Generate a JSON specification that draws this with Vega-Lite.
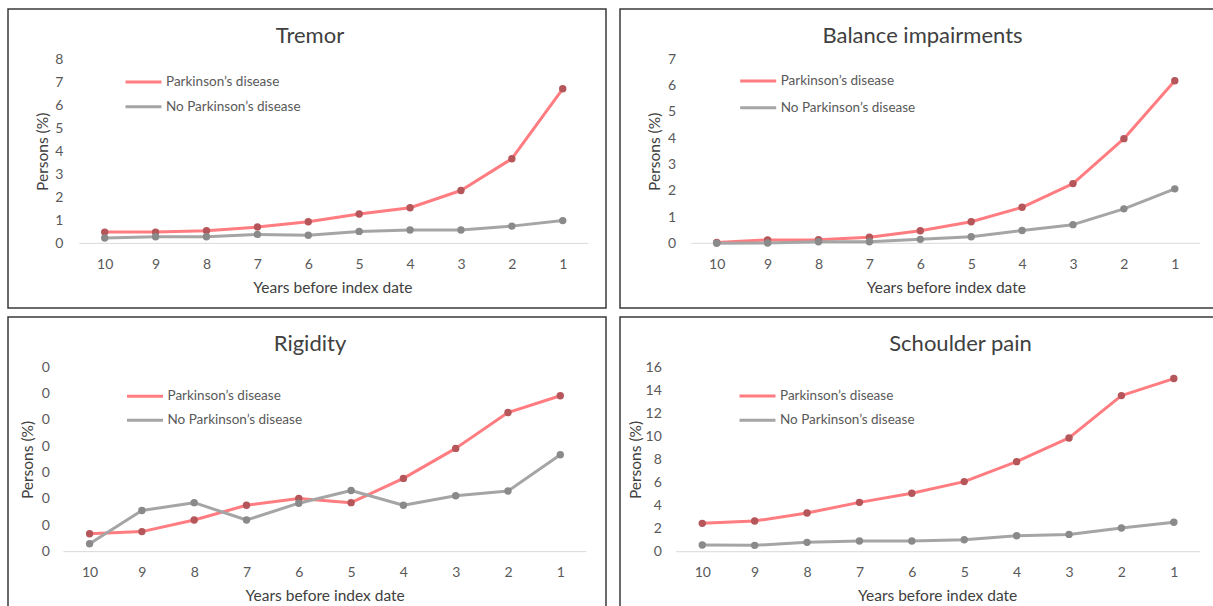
{
  "$schema": "https://vega.github.io/schema/vega-lite/v6.json",
  "padding": {"left": 7, "top": 8, "right": 0, "bottom": 0},
  "autosize": {"type": "pad"},
  "background": "white",
  "datasets": {
    "d": [
      {"panel": "Tremor", "year": 10, "group": "Parkinson’s disease", "value": 0.49},
      {"panel": "Tremor", "year": 9, "group": "Parkinson’s disease", "value": 0.49},
      {"panel": "Tremor", "year": 8, "group": "Parkinson’s disease", "value": 0.55},
      {"panel": "Tremor", "year": 7, "group": "Parkinson’s disease", "value": 0.71},
      {"panel": "Tremor", "year": 6, "group": "Parkinson’s disease", "value": 0.94},
      {"panel": "Tremor", "year": 5, "group": "Parkinson’s disease", "value": 1.28},
      {"panel": "Tremor", "year": 4, "group": "Parkinson’s disease", "value": 1.55},
      {"panel": "Tremor", "year": 3, "group": "Parkinson’s disease", "value": 2.3},
      {"panel": "Tremor", "year": 2, "group": "Parkinson’s disease", "value": 3.68},
      {"panel": "Tremor", "year": 1, "group": "Parkinson’s disease", "value": 6.72},
      {"panel": "Tremor", "year": 10, "group": "No Parkinson’s disease", "value": 0.23},
      {"panel": "Tremor", "year": 9, "group": "No Parkinson’s disease", "value": 0.29},
      {"panel": "Tremor", "year": 8, "group": "No Parkinson’s disease", "value": 0.29},
      {"panel": "Tremor", "year": 7, "group": "No Parkinson’s disease", "value": 0.39},
      {"panel": "Tremor", "year": 6, "group": "No Parkinson’s disease", "value": 0.35},
      {"panel": "Tremor", "year": 5, "group": "No Parkinson’s disease", "value": 0.52},
      {"panel": "Tremor", "year": 4, "group": "No Parkinson’s disease", "value": 0.58},
      {"panel": "Tremor", "year": 3, "group": "No Parkinson’s disease", "value": 0.58},
      {"panel": "Tremor", "year": 2, "group": "No Parkinson’s disease", "value": 0.75},
      {"panel": "Tremor", "year": 1, "group": "No Parkinson’s disease", "value": 0.99},
      {"panel": "Balance", "year": 10, "group": "Parkinson’s disease", "value": 0.03},
      {"panel": "Balance", "year": 9, "group": "Parkinson’s disease", "value": 0.13},
      {"panel": "Balance", "year": 8, "group": "Parkinson’s disease", "value": 0.14},
      {"panel": "Balance", "year": 7, "group": "Parkinson’s disease", "value": 0.23},
      {"panel": "Balance", "year": 6, "group": "Parkinson’s disease", "value": 0.48},
      {"panel": "Balance", "year": 5, "group": "Parkinson’s disease", "value": 0.82},
      {"panel": "Balance", "year": 4, "group": "Parkinson’s disease", "value": 1.37},
      {"panel": "Balance", "year": 3, "group": "Parkinson’s disease", "value": 2.27},
      {"panel": "Balance", "year": 2, "group": "Parkinson’s disease", "value": 3.98},
      {"panel": "Balance", "year": 1, "group": "Parkinson’s disease", "value": 6.18},
      {"panel": "Balance", "year": 10, "group": "No Parkinson’s disease", "value": 0.0},
      {"panel": "Balance", "year": 9, "group": "No Parkinson’s disease", "value": 0.01},
      {"panel": "Balance", "year": 8, "group": "No Parkinson’s disease", "value": 0.06},
      {"panel": "Balance", "year": 7, "group": "No Parkinson’s disease", "value": 0.06},
      {"panel": "Balance", "year": 6, "group": "No Parkinson’s disease", "value": 0.15},
      {"panel": "Balance", "year": 5, "group": "No Parkinson’s disease", "value": 0.25},
      {"panel": "Balance", "year": 4, "group": "No Parkinson’s disease", "value": 0.49},
      {"panel": "Balance", "year": 3, "group": "No Parkinson’s disease", "value": 0.71},
      {"panel": "Balance", "year": 2, "group": "No Parkinson’s disease", "value": 1.31},
      {"panel": "Balance", "year": 1, "group": "No Parkinson’s disease", "value": 2.07},
      {"panel": "Rigidity", "year": 10, "group": "Parkinson’s disease", "value": 0.034},
      {"panel": "Rigidity", "year": 9, "group": "Parkinson’s disease", "value": 0.038},
      {"panel": "Rigidity", "year": 8, "group": "Parkinson’s disease", "value": 0.06},
      {"panel": "Rigidity", "year": 7, "group": "Parkinson’s disease", "value": 0.088},
      {"panel": "Rigidity", "year": 6, "group": "Parkinson’s disease", "value": 0.101},
      {"panel": "Rigidity", "year": 5, "group": "Parkinson’s disease", "value": 0.093},
      {"panel": "Rigidity", "year": 4, "group": "Parkinson’s disease", "value": 0.139},
      {"panel": "Rigidity", "year": 3, "group": "Parkinson’s disease", "value": 0.196},
      {"panel": "Rigidity", "year": 2, "group": "Parkinson’s disease", "value": 0.264},
      {"panel": "Rigidity", "year": 1, "group": "Parkinson’s disease", "value": 0.296},
      {"panel": "Rigidity", "year": 10, "group": "No Parkinson’s disease", "value": 0.015},
      {"panel": "Rigidity", "year": 9, "group": "No Parkinson’s disease", "value": 0.078},
      {"panel": "Rigidity", "year": 8, "group": "No Parkinson’s disease", "value": 0.093},
      {"panel": "Rigidity", "year": 7, "group": "No Parkinson’s disease", "value": 0.06},
      {"panel": "Rigidity", "year": 6, "group": "No Parkinson’s disease", "value": 0.092},
      {"panel": "Rigidity", "year": 5, "group": "No Parkinson’s disease", "value": 0.116},
      {"panel": "Rigidity", "year": 4, "group": "No Parkinson’s disease", "value": 0.088},
      {"panel": "Rigidity", "year": 3, "group": "No Parkinson’s disease", "value": 0.106},
      {"panel": "Rigidity", "year": 2, "group": "No Parkinson’s disease", "value": 0.115},
      {"panel": "Rigidity", "year": 1, "group": "No Parkinson’s disease", "value": 0.184},
      {"panel": "Shoulder", "year": 10, "group": "Parkinson’s disease", "value": 2.46},
      {"panel": "Shoulder", "year": 9, "group": "Parkinson’s disease", "value": 2.66},
      {"panel": "Shoulder", "year": 8, "group": "Parkinson’s disease", "value": 3.36},
      {"panel": "Shoulder", "year": 7, "group": "Parkinson’s disease", "value": 4.28},
      {"panel": "Shoulder", "year": 6, "group": "Parkinson’s disease", "value": 5.07},
      {"panel": "Shoulder", "year": 5, "group": "Parkinson’s disease", "value": 6.08},
      {"panel": "Shoulder", "year": 4, "group": "Parkinson’s disease", "value": 7.81},
      {"panel": "Shoulder", "year": 3, "group": "Parkinson’s disease", "value": 9.87},
      {"panel": "Shoulder", "year": 2, "group": "Parkinson’s disease", "value": 13.54},
      {"panel": "Shoulder", "year": 1, "group": "Parkinson’s disease", "value": 15.02},
      {"panel": "Shoulder", "year": 10, "group": "No Parkinson’s disease", "value": 0.58},
      {"panel": "Shoulder", "year": 9, "group": "No Parkinson’s disease", "value": 0.55},
      {"panel": "Shoulder", "year": 8, "group": "No Parkinson’s disease", "value": 0.81},
      {"panel": "Shoulder", "year": 7, "group": "No Parkinson’s disease", "value": 0.93},
      {"panel": "Shoulder", "year": 6, "group": "No Parkinson’s disease", "value": 0.93},
      {"panel": "Shoulder", "year": 5, "group": "No Parkinson’s disease", "value": 1.04},
      {"panel": "Shoulder", "year": 4, "group": "No Parkinson’s disease", "value": 1.39},
      {"panel": "Shoulder", "year": 3, "group": "No Parkinson’s disease", "value": 1.5},
      {"panel": "Shoulder", "year": 2, "group": "No Parkinson’s disease", "value": 2.05},
      {"panel": "Shoulder", "year": 1, "group": "No Parkinson’s disease", "value": 2.55}
    ]
  },
  "data": {"name": "d"},
  "spacing": 7,
  "vconcat": [
    {
      "spacing": 12,
      "hconcat": [
        {
          "width": 598, "height": 299,
          "title": {"text": "Tremor", "dx": 3},
          "layer": [
            {
              "data": {"values": [{}]},
              "mark": {"type": "rule", "color": "#d9d9d9", "strokeWidth": 1},
              "encoding": {
                "x": {"datum": 10.5, "type": "quantitative", "title": "Years before index date", "scale": {"domain": [0.15, 11.9], "reverse": true, "nice": false, "zero": false}, "axis": {"values": [10, 9, 8, 7, 6, 5, 4, 3, 2, 1], "format": "d", "offset": -64.7, "titleX": 324.4}},
                "x2": {"datum": 0.5},
                "y": {"datum": 0, "type": "quantitative", "title": "Persons (%)", "scale": {"domain": [-2.81, 10.19], "nice": false, "zero": false}, "axis": {"values": [0, 1, 2, 3, 4, 5, 6, 7, 8], "format": "d", "offset": -54.8, "titleX": -20.8, "titleY": 142.3}}
              }
            },
            {
              "transform": [{"filter": "datum.panel === 'Tremor'"}],
              "mark": {"type": "line", "strokeWidth": 3, "strokeCap": "round", "strokeJoin": "round"},
              "encoding": {
                "x": {"field": "year", "type": "quantitative", "title": "Years before index date", "scale": {"domain": [0.15, 11.9], "reverse": true, "nice": false, "zero": false}, "axis": {"values": [10, 9, 8, 7, 6, 5, 4, 3, 2, 1], "format": "d", "offset": -64.7, "titleX": 324.4}},
                "y": {"field": "value", "type": "quantitative", "title": "Persons (%)", "scale": {"domain": [-2.81, 10.19], "nice": false, "zero": false}, "axis": {"values": [0, 1, 2, 3, 4, 5, 6, 7, 8], "format": "d", "offset": -54.8, "titleX": -20.8, "titleY": 142.3}},
                "color": {"field": "group", "type": "nominal", "scale": {"domain": ["Parkinson’s disease", "No Parkinson’s disease"], "range": ["#ff7c80", "#a5a5a5"]}, "legend": {"title": null, "legendX": 116, "legendY": 63, "rowPadding": 4.7}}
              }
            },
            {
              "transform": [{"filter": "datum.panel === 'Tremor'"}],
              "mark": {"type": "point", "filled": true, "size": 55, "opacity": 1},
              "encoding": {
                "x": {"field": "year", "type": "quantitative", "title": "Years before index date", "scale": {"domain": [0.15, 11.9], "reverse": true, "nice": false, "zero": false}, "axis": {"values": [10, 9, 8, 7, 6, 5, 4, 3, 2, 1], "format": "d", "offset": -64.7, "titleX": 324.4}},
                "y": {"field": "value", "type": "quantitative", "title": "Persons (%)", "scale": {"domain": [-2.81, 10.19], "nice": false, "zero": false}, "axis": {"values": [0, 1, 2, 3, 4, 5, 6, 7, 8], "format": "d", "offset": -54.8, "titleX": -20.8, "titleY": 142.3}},
                "color": {"field": "group", "type": "nominal", "scale": {"domain": ["Parkinson’s disease", "No Parkinson’s disease"], "range": ["#b5565a", "#8a8a8a"]}, "legend": null}
              }
            }
          ],
          "resolve": {"scale": {"color": "independent"}}
        },
        {
          "width": 595, "height": 299,
          "title": {"text": "Balance impairments", "dx": 5},
          "layer": [
            {
              "data": {"values": [{}]},
              "mark": {"type": "rule", "color": "#d9d9d9", "strokeWidth": 1},
              "encoding": {
                "x": {"datum": 10.5, "type": "quantitative", "title": "Years before index date", "scale": {"domain": [0.21, 11.9], "reverse": true, "nice": false, "zero": false}, "axis": {"values": [10, 9, 8, 7, 6, 5, 4, 3, 2, 1], "format": "d", "offset": -64.7, "titleX": 325.8}},
                "x2": {"datum": 0.5},
                "y": {"datum": 0, "type": "quantitative", "title": "Persons (%)", "scale": {"domain": [-2.46, 8.91], "nice": false, "zero": false}, "axis": {"values": [0, 1, 2, 3, 4, 5, 6, 7], "format": "d", "offset": -55.6, "titleX": -20.9, "titleY": 142.3}}
              }
            },
            {
              "transform": [{"filter": "datum.panel === 'Balance'"}],
              "mark": {"type": "line", "strokeWidth": 3, "strokeCap": "round", "strokeJoin": "round"},
              "encoding": {
                "x": {"field": "year", "type": "quantitative", "title": "Years before index date", "scale": {"domain": [0.21, 11.9], "reverse": true, "nice": false, "zero": false}, "axis": {"values": [10, 9, 8, 7, 6, 5, 4, 3, 2, 1], "format": "d", "offset": -64.7, "titleX": 325.8}},
                "y": {"field": "value", "type": "quantitative", "title": "Persons (%)", "scale": {"domain": [-2.46, 8.91], "nice": false, "zero": false}, "axis": {"values": [0, 1, 2, 3, 4, 5, 6, 7], "format": "d", "offset": -55.6, "titleX": -20.9, "titleY": 142.3}},
                "color": {"field": "group", "type": "nominal", "scale": {"domain": ["Parkinson’s disease", "No Parkinson’s disease"], "range": ["#ff7c80", "#a5a5a5"]}, "legend": {"title": null, "legendX": 118.7, "legendY": 62, "rowPadding": 6.7}}
              }
            },
            {
              "transform": [{"filter": "datum.panel === 'Balance'"}],
              "mark": {"type": "point", "filled": true, "size": 55, "opacity": 1},
              "encoding": {
                "x": {"field": "year", "type": "quantitative", "title": "Years before index date", "scale": {"domain": [0.21, 11.9], "reverse": true, "nice": false, "zero": false}, "axis": {"values": [10, 9, 8, 7, 6, 5, 4, 3, 2, 1], "format": "d", "offset": -64.7, "titleX": 325.8}},
                "y": {"field": "value", "type": "quantitative", "title": "Persons (%)", "scale": {"domain": [-2.46, 8.91], "nice": false, "zero": false}, "axis": {"values": [0, 1, 2, 3, 4, 5, 6, 7], "format": "d", "offset": -55.6, "titleX": -20.9, "titleY": 142.3}},
                "color": {"field": "group", "type": "nominal", "scale": {"domain": ["Parkinson’s disease", "No Parkinson’s disease"], "range": ["#b5565a", "#8a8a8a"]}, "legend": null}
              }
            }
          ],
          "resolve": {"scale": {"color": "independent"}}
        }
      ]
    },
    {
      "spacing": 12,
      "hconcat": [
        {
          "width": 598, "height": 291,
          "title": {"text": "Rigidity", "dx": 3},
          "layer": [
            {
              "data": {"values": [{}]},
              "mark": {"type": "rule", "color": "#d9d9d9", "strokeWidth": 1},
              "encoding": {
                "x": {"datum": 10.5, "type": "quantitative", "title": "Years before index date", "scale": {"domain": [0.126, 11.56], "reverse": true, "nice": false, "zero": false}, "axis": {"values": [10, 9, 8, 7, 6, 5, 4, 3, 2, 1], "format": "d", "offset": -56.3, "titleX": 316.7}},
                "x2": {"datum": 0.5},
                "y": {"datum": 0, "type": "quantitative", "title": "Persons (%)", "scale": {"domain": [-0.107, 0.4454], "nice": false, "zero": false}, "axis": {"values": [0, 0.05, 0.1, 0.15, 0.2, 0.25, 0.3, 0.35], "format": ".0f", "offset": -41.3, "titleX": -22, "titleY": 142.5}}
              }
            },
            {
              "transform": [{"filter": "datum.panel === 'Rigidity'"}],
              "mark": {"type": "line", "strokeWidth": 3, "strokeCap": "round", "strokeJoin": "round"},
              "encoding": {
                "x": {"field": "year", "type": "quantitative", "title": "Years before index date", "scale": {"domain": [0.126, 11.56], "reverse": true, "nice": false, "zero": false}, "axis": {"values": [10, 9, 8, 7, 6, 5, 4, 3, 2, 1], "format": "d", "offset": -56.3, "titleX": 316.7}},
                "y": {"field": "value", "type": "quantitative", "title": "Persons (%)", "scale": {"domain": [-0.107, 0.4454], "nice": false, "zero": false}, "axis": {"values": [0, 0.05, 0.1, 0.15, 0.2, 0.25, 0.3, 0.35], "format": ".0f", "offset": -41.3, "titleX": -22, "titleY": 142.5}},
                "color": {"field": "group", "type": "nominal", "scale": {"domain": ["Parkinson’s disease", "No Parkinson’s disease"], "range": ["#ff7c80", "#a5a5a5"]}, "legend": {"title": null, "legendX": 117.5, "legendY": 69.3, "rowPadding": 4}}
              }
            },
            {
              "transform": [{"filter": "datum.panel === 'Rigidity'"}],
              "mark": {"type": "point", "filled": true, "size": 55, "opacity": 1},
              "encoding": {
                "x": {"field": "year", "type": "quantitative", "title": "Years before index date", "scale": {"domain": [0.126, 11.56], "reverse": true, "nice": false, "zero": false}, "axis": {"values": [10, 9, 8, 7, 6, 5, 4, 3, 2, 1], "format": "d", "offset": -56.3, "titleX": 316.7}},
                "y": {"field": "value", "type": "quantitative", "title": "Persons (%)", "scale": {"domain": [-0.107, 0.4454], "nice": false, "zero": false}, "axis": {"values": [0, 0.05, 0.1, 0.15, 0.2, 0.25, 0.3, 0.35], "format": ".0f", "offset": -41.3, "titleX": -22, "titleY": 142.5}},
                "color": {"field": "group", "type": "nominal", "scale": {"domain": ["Parkinson’s disease", "No Parkinson’s disease"], "range": ["#b5565a", "#8a8a8a"]}, "legend": null}
              }
            }
          ],
          "resolve": {"scale": {"color": "independent"}}
        },
        {
          "width": 595, "height": 291,
          "title": {"text": "Schoulder pain", "dx": 43},
          "layer": [
            {
              "data": {"values": [{}]},
              "mark": {"type": "rule", "color": "#d9d9d9", "strokeWidth": 1},
              "encoding": {
                "x": {"datum": 10.5, "type": "quantitative", "title": "Years before index date", "scale": {"domain": [0.214, 11.57], "reverse": true, "nice": false, "zero": false}, "axis": {"values": [10, 9, 8, 7, 6, 5, 4, 3, 2, 1], "format": "d", "offset": -56.3, "titleX": 317.1}},
                "x2": {"datum": 0.5},
                "y": {"datum": 0, "type": "quantitative", "title": "Persons (%)", "scale": {"domain": [-4.885, 20.36], "nice": false, "zero": false}, "axis": {"values": [0, 2, 4, 6, 8, 10, 12, 14, 16], "format": "d", "offset": -41.3, "titleX": -26, "titleY": 142.5}}
              }
            },
            {
              "transform": [{"filter": "datum.panel === 'Shoulder'"}],
              "mark": {"type": "line", "strokeWidth": 3, "strokeCap": "round", "strokeJoin": "round"},
              "encoding": {
                "x": {"field": "year", "type": "quantitative", "title": "Years before index date", "scale": {"domain": [0.214, 11.57], "reverse": true, "nice": false, "zero": false}, "axis": {"values": [10, 9, 8, 7, 6, 5, 4, 3, 2, 1], "format": "d", "offset": -56.3, "titleX": 317.1}},
                "y": {"field": "value", "type": "quantitative", "title": "Persons (%)", "scale": {"domain": [-4.885, 20.36], "nice": false, "zero": false}, "axis": {"values": [0, 2, 4, 6, 8, 10, 12, 14, 16], "format": "d", "offset": -41.3, "titleX": -26, "titleY": 142.5}},
                "color": {"field": "group", "type": "nominal", "scale": {"domain": ["Parkinson’s disease", "No Parkinson’s disease"], "range": ["#ff7c80", "#a5a5a5"]}, "legend": {"title": null, "legendX": 118, "legendY": 69, "rowPadding": 4.3}}
              }
            },
            {
              "transform": [{"filter": "datum.panel === 'Shoulder'"}],
              "mark": {"type": "point", "filled": true, "size": 55, "opacity": 1},
              "encoding": {
                "x": {"field": "year", "type": "quantitative", "title": "Years before index date", "scale": {"domain": [0.214, 11.57], "reverse": true, "nice": false, "zero": false}, "axis": {"values": [10, 9, 8, 7, 6, 5, 4, 3, 2, 1], "format": "d", "offset": -56.3, "titleX": 317.1}},
                "y": {"field": "value", "type": "quantitative", "title": "Persons (%)", "scale": {"domain": [-4.885, 20.36], "nice": false, "zero": false}, "axis": {"values": [0, 2, 4, 6, 8, 10, 12, 14, 16], "format": "d", "offset": -41.3, "titleX": -26, "titleY": 142.5}},
                "color": {"field": "group", "type": "nominal", "scale": {"domain": ["Parkinson’s disease", "No Parkinson’s disease"], "range": ["#b5565a", "#8a8a8a"]}, "legend": null}
              }
            }
          ],
          "resolve": {"scale": {"color": "independent"}}
        }
      ]
    }
  ],
  "config": {
    "view": {"stroke": "#3a3a3a", "strokeWidth": 1.5},
    "font": "Lato",
    "title": {"font": "Lato", "fontSize": 22, "fontWeight": "normal", "color": "#404040", "anchor": "middle", "frame": "group", "offset": -39, "baseline": "middle"},
    "axis": {"domain": false, "ticks": false, "tickSize": 0, "grid": false, "labelFont": "Lato", "labelFontSize": 14, "labelColor": "#595959", "titleFont": "Lato", "titleFontSize": 15.5, "titleColor": "#404040", "titleFontWeight": "normal", "labelOverlap": false, "labelFlush": false},
    "axisX": {"labelPadding": 14, "titlePadding": 9, "labelAngle": 0},
    "axisY": {"labelPadding": 0, "titleBaseline": "middle"},
    "legend": {"orient": "none", "symbolType": "stroke", "symbolSize": 1296, "symbolStrokeWidth": 3, "clipHeight": 20, "labelFont": "Lato", "labelFontSize": 13.5, "labelColor": "#595959", "labelOffset": 3, "padding": 0, "direction": "vertical"}
  }
}
